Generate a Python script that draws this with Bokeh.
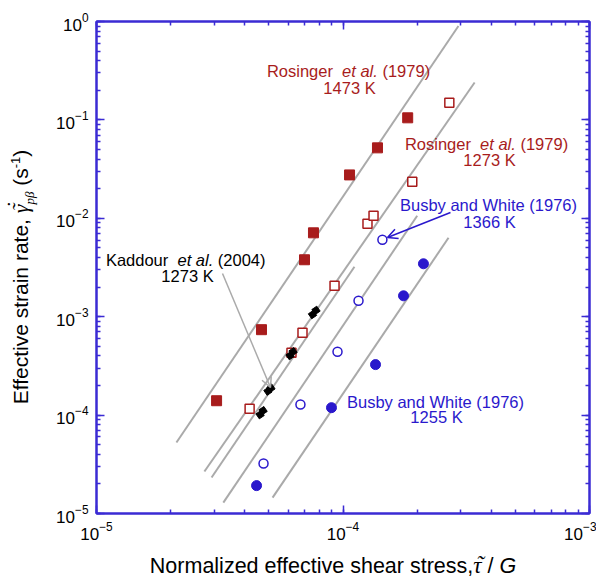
import math
from bokeh.plotting import figure
from bokeh.models import (Range1d, LogAxis, LogTicker, Label, Arrow, OpenHead,
                          CustomJSTickFormatter, Div)
from bokeh.layouts import row, column
from bokeh.embed import file_html
from bokeh.resources import INLINE

# ---------------- data ----------------
ros1473_x = [3.07e-5, 4.67e-5, 6.98e-5, 7.59e-5, 1.063e-4, 1.38e-4, 1.83e-4]
ros1473_y = [1.40e-4, 7.38e-4, 3.79e-3, 7.12e-3, 2.76e-2, 5.20e-2, 1.05e-1]

ros1273_x = [4.18e-5, 6.18e-5, 6.85e-5, 9.24e-5, 1.257e-4, 1.33e-4, 1.91e-4, 2.70e-4]
ros1273_y = [1.16e-4, 4.31e-4, 6.88e-4, 2.06e-3, 8.79e-3, 1.06e-2, 2.35e-2, 1.49e-1]

kad_x = [4.61e-5, 4.74e-5, 4.96e-5, 5.10e-5, 6.10e-5, 6.27e-5, 7.52e-5, 7.77e-5]
kad_y = [1.01e-4, 1.11e-4, 1.75e-4, 1.88e-4, 4.02e-4, 4.41e-4, 1.05e-3, 1.16e-3]

bw1366_x = [4.76e-5, 6.72e-5, 9.50e-5, 1.156e-4, 1.445e-4]
bw1366_y = [3.22e-5, 1.28e-4, 4.41e-4, 1.45e-3, 6.05e-3]

bw1255_x = [4.46e-5, 8.98e-5, 1.355e-4, 1.76e-4, 2.12e-4]
bw1255_y = [1.92e-5, 1.19e-4, 3.26e-4, 1.63e-3, 3.45e-3]

# fitted power-law lines (end points)
fit_ros1473_x = [2.11e-5, 2.94e-4]
fit_ros1473_y = [5.26e-5, 0.90]
fit_ros1273_x = [2.74e-5, 3.42e-4]
fit_ros1273_y = [2.67e-5, 0.240]
fit_kad_x = [2.93e-5, 1.113e-4]
fit_kad_y = [2.32e-5, 3.22e-3]
fit_bw1366_x = [3.27e-5, 2.00e-4]
fit_bw1366_y = [1.29e-5, 1.06e-2]
fit_bw1255_x = [5.18e-5, 2.68e-4]
fit_bw1255_y = [1.45e-5, 6.34e-3]

x_title_main = "Normalized effective shear stress,"
y_title_main = "Effective strain rate,"

# ---------------- styling ----------------
RED = "#a81c1c"
BLUE = "#2a18cc"
FRAME = "#3b2bd4"
GRAY = "#aaaaaa"
SANS = "Liberation Sans"
SERIF = "Liberation Serif"

AW = {" ": 278, "(": 333, ")": 333, ".": 278, ",": 278, "-": 333, "/": 278,
      "A": 667, "B": 667, "E": 667, "G": 778, "K": 667, "N": 722, "R": 722, "W": 944,
      "a": 556, "b": 556, "c": 500, "d": 556, "e": 556, "f": 278, "g": 556, "h": 556,
      "i": 222, "l": 222, "m": 833, "n": 556, "o": 556, "p": 556, "r": 333, "s": 500,
      "t": 278, "u": 556, "v": 500, "y": 500, "z": 500}


def tw(s, size):
    return sum(AW.get(c, 556) for c in s) / 1000.0 * size


# window-pixel calibration of the frame, used only to place annotations
FL, FT, DX, DY = 96.0, 21.0, 246.5, 98.4
YDIV_W = 40


def dx(px):
    return 10 ** ((px - FL) / DX - 5)


def dy(py):
    return 10 ** (-(py - FT) / DY)


p = figure(x_axis_type="log", y_axis_type="log",
           x_range=Range1d(1e-5, 1e-3), y_range=Range1d(1e-5, 1e0),
           frame_width=493, frame_height=492,
           min_border_left=int(FL) - YDIV_W, min_border_right=7,
           min_border_top=int(FT), min_border_bottom=37,
           output_backend="svg", toolbar_location=None,
           background_fill_color="white", border_fill_color="white")
p.xgrid.visible = False
p.ygrid.visible = False
p.outline_line_color = FRAME
p.outline_line_width = 2

blank = CustomJSTickFormatter(code="return ' '")


def style_axis(ax):
    ax.axis_line_color = FRAME
    ax.axis_line_width = 2
    ax.major_tick_line_color = FRAME
    ax.minor_tick_line_color = FRAME
    ax.major_tick_line_width = 1.5
    ax.minor_tick_line_width = 1.5
    ax.major_tick_in = 8
    ax.major_tick_out = 0
    ax.minor_tick_in = 4
    ax.minor_tick_out = 0


for ax in [p.xaxis[0], p.yaxis[0]]:
    style_axis(ax)
    ax.ticker = LogTicker(num_minor_ticks=10)
    ax.major_label_text_font = SANS
    ax.major_label_text_font_size = "17px"
    ax.major_label_text_color = "black"
p.yaxis[0].major_label_standoff = 8
p.xaxis[0].major_label_standoff = 8

for loc in ["above", "right"]:
    ax = LogAxis(ticker=LogTicker(num_minor_ticks=10), formatter=blank)
    style_axis(ax)
    ax.major_label_text_font_size = "2px"
    ax.major_label_standoff = 0
    p.add_layout(ax, loc)

# fitted lines
for fx, fy in [(fit_ros1473_x, fit_ros1473_y), (fit_ros1273_x, fit_ros1273_y),
               (fit_kad_x, fit_kad_y), (fit_bw1366_x, fit_bw1366_y),
               (fit_bw1255_x, fit_bw1255_y)]:
    p.line(fx, fy, line_color=GRAY, line_width=2)

# data
p.scatter(ros1473_x, ros1473_y, marker="square", size=10, fill_color=RED, line_color=RED)
p.scatter(ros1273_x, ros1273_y, marker="square", size=9, fill_color="white",
          line_color=RED, line_width=1.5)
p.scatter(kad_x, kad_y, marker="square", size=6, angle=0.6,
          fill_color="black", line_color="black")
p.scatter(bw1366_x, bw1366_y, marker="circle", size=9, fill_color="white",
          line_color=BLUE, line_width=1.5)
p.scatter(bw1255_x, bw1255_y, marker="circle", size=10, fill_color=BLUE, line_color=BLUE)


def lab(px, py, text, size, color, font=SANS, style="normal", align="left"):
    p.add_layout(Label(x=dx(px), y=dy(py), x_units="data", y_units="data", text=text,
                       text_font=font, text_font_size=f"{size}px", text_font_style=style,
                       text_color=color, text_align=align, text_baseline="alphabetic"))


FS = 16.5


def etal_line(cx, base, name, year, color):
    w1 = tw(name, FS)
    gap = 2 * tw(" ", FS)
    w2 = tw("et al.", FS)
    w3 = tw(" " + year, FS)
    x = cx - (w1 + gap + w2 + w3) / 2
    lab(x, base, name, FS, color)
    lab(x + w1 + gap, base, "et al.", FS, color, style="italic")
    lab(x + w1 + gap + w2 + tw(" ", FS), base, year, FS, color)


etal_line(348, 70, "Rosinger", "(1979)", RED)
lab(349, 87, "1473 K", FS, RED, align="center")
etal_line(486, 143, "Rosinger", "(1979)", RED)
lab(489, 159, "1273 K", FS, RED, align="center")
lab(488, 204, "Busby and White (1976)", FS, BLUE, align="center")
lab(489, 221, "1366 K", FS, BLUE, align="center")
lab(435, 401, "Busby and White (1976)", FS, BLUE, align="center")
lab(436, 416, "1255 K", FS, BLUE, align="center")
kad_w = tw("Kaddour", FS) + 2 * tw(" ", FS) + tw("et al.", FS) + tw(" (2004)", FS)
etal_line(265 - kad_w / 2, 259, "Kaddour", "(2004)", "black")
lab(187, 275, "1273 K", FS, "black", align="center")

p.add_layout(Arrow(end=OpenHead(size=10, line_color=GRAY, line_width=1.5),
                   x_start=dx(222), y_start=dy(273), x_end=dx(270), y_end=dy(387),
                   line_color=GRAY, line_width=1.5))
p.add_layout(Arrow(end=OpenHead(size=10, line_color=BLUE, line_width=1.5),
                   x_start=dx(450), y_start=dy(212), x_end=dx(387), y_end=dy(237),
                   line_color=BLUE, line_width=1.5))

# ---------------- axis titles (HTML, real text) ----------------
SERIF_I = "font-family:'Liberation Serif';font-style:italic;"
gamma = (f'<span style="{SERIF_I}font-size:22px;position:relative;display:inline-block;">'
         '\u03b3'
         '<span style="position:absolute;left:2px;top:-1px;">\u02dc</span>'
         '<span style="position:absolute;left:4px;top:-6px;">\u02d9</span></span>')
y_html = (
    f'<div style="position:relative;width:{YDIV_W}px;height:578px;">'
    '<div style="position:absolute;left:10px;top:277px;transform-origin:0 0;'
    'transform:rotate(-90deg) translateX(-50%);white-space:nowrap;line-height:1;'
    "font-family:'Liberation Sans';font-size:21px;color:black;\">"
    f'{y_title_main}&nbsp;{gamma}'
    f'<span style="{SERIF_I}font-size:13px;position:relative;top:6px;">p\u03b2</span>'
    '&nbsp;(s<span style="font-size:13px;position:relative;top:-8px;">-1</span>)'
    '</div></div>')
ydiv = Div(text=y_html, width=YDIV_W, height=578, margin=0)

tau = (f'<span style="{SERIF_I}font-size:23px;position:relative;display:inline-block;">'
       '\u03c4<span style="position:absolute;left:3px;top:-1px;">\u02dc</span></span>')
x_html = (
    '<div style="position:relative;width:556px;height:28px;">'
    f'<div style="position:absolute;left:{333 - YDIV_W}px;top:4px;transform:translateX(-50%);'
    "white-space:nowrap;line-height:1;font-family:'Liberation Sans';font-size:21.5px;color:black;\">"
    f'{x_title_main}{tau}&nbsp;/&nbsp;<i>G</i></div></div>')
xdiv = Div(text=x_html, width=556, height=28, margin=0)

layout = row(ydiv, column(p, xdiv, spacing=0), spacing=0)
open("out.html", "w").write(file_html(layout, INLINE))
